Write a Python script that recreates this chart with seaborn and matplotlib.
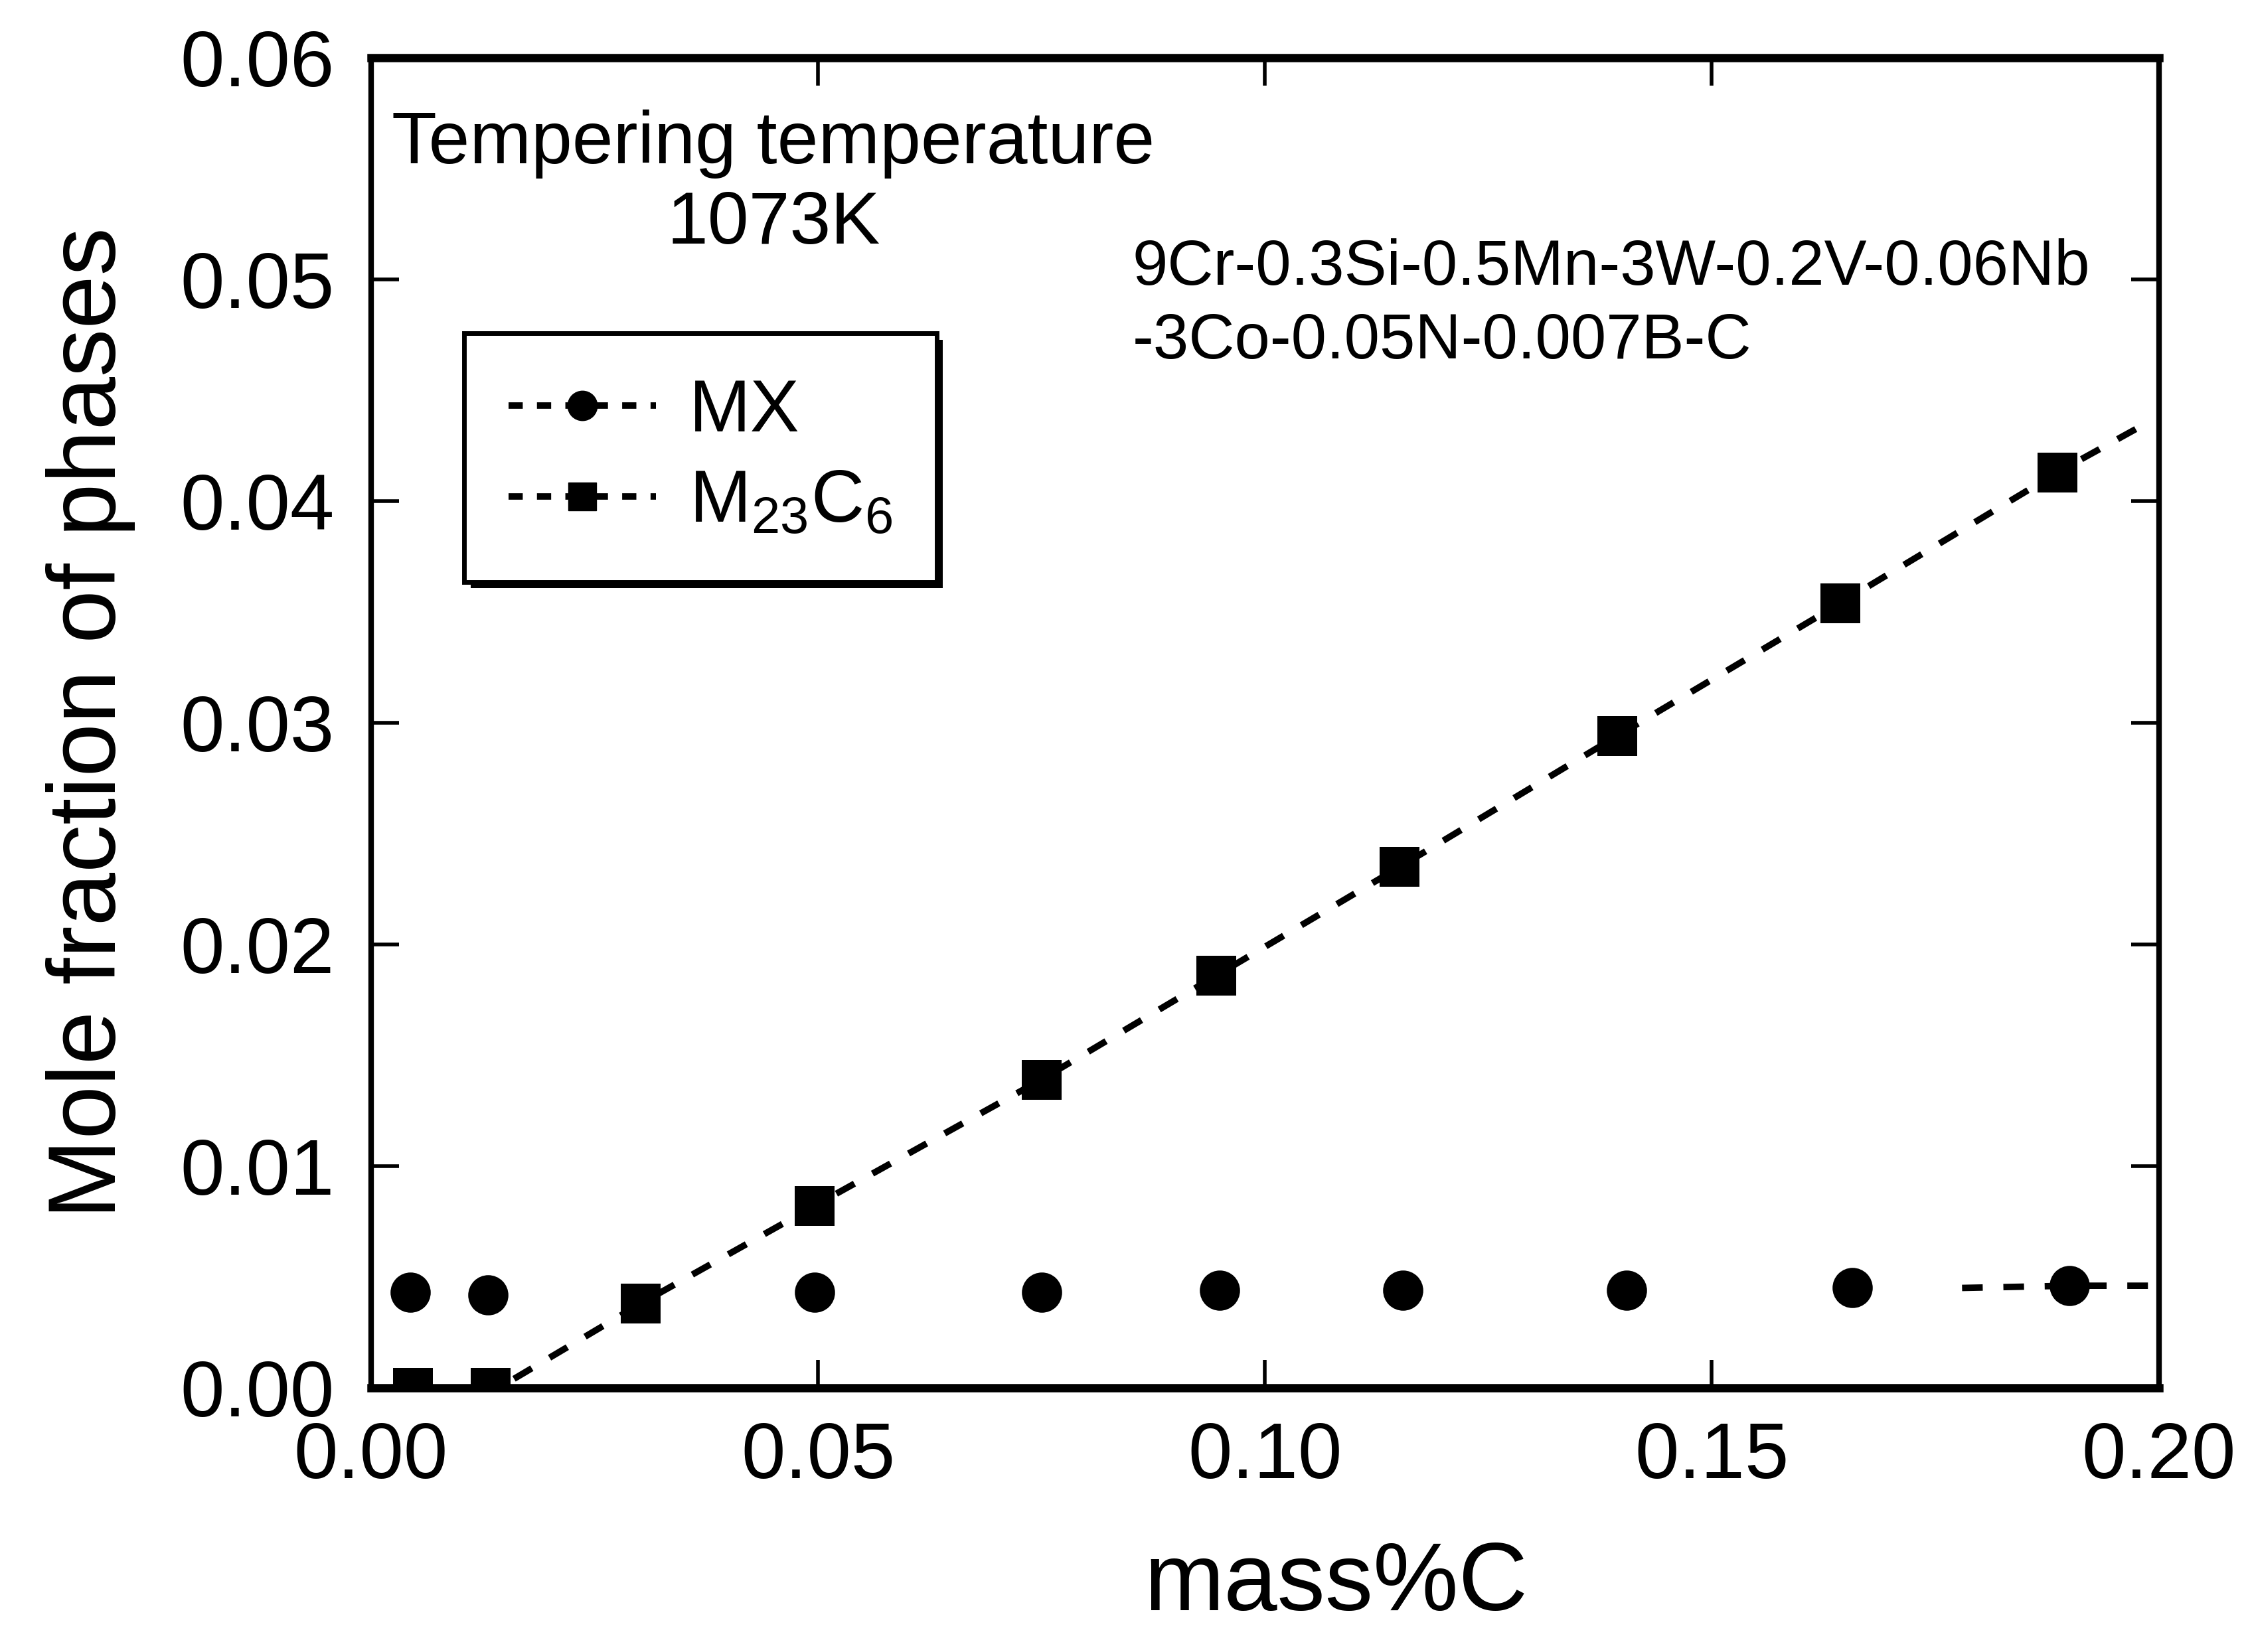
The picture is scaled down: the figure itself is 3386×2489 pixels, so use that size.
import numpy as np
import pandas as pd
import matplotlib
matplotlib.use("Agg")
import matplotlib.pyplot as plt
import matplotlib.patheffects as pe
from matplotlib.lines import Line2D
import seaborn as sns

# data
mx_x = [0.0044, 0.0131, 0.0496, 0.0750, 0.0949, 0.1154, 0.1405, 0.1657, 0.1900]
mx_y = [0.0043, 0.0042, 0.0043, 0.0043, 0.0044, 0.0044, 0.0044, 0.0045, 0.0046]
m23_x = [0.0047, 0.0134, 0.0302, 0.0496, 0.0750, 0.0946, 0.1151, 0.1394, 0.1644, 0.1887]
m23_y = [0.0000, 0.0000, 0.0038, 0.0082, 0.0139, 0.0186, 0.0235, 0.0294, 0.0354, 0.0413]
# dashed guide lines (only the visible parts)
mx_line_x = [0.1780, 0.1900, 0.1990]
mx_line_y = [0.0045, 0.0046, 0.0046]
m23_line_x = [0.0160, 0.0302, 0.0496, 0.0750, 0.0946, 0.1151, 0.1394, 0.1644, 0.1887, 0.1990]
m23_line_y = [0.0004, 0.0038, 0.0082, 0.0139, 0.0186, 0.0235, 0.0294, 0.0354, 0.0413, 0.0436]

x_ticks = [0.00, 0.05, 0.10, 0.15, 0.20]
y_ticks = [0.00, 0.01, 0.02, 0.03, 0.04, 0.05, 0.06]

sns.set_theme(style="ticks")
plt.rcParams['font.family'] = ['Liberation Sans', 'DejaVu Sans']
plt.rcParams['mathtext.fontset'] = 'custom'
plt.rcParams['mathtext.rm'] = 'Liberation Sans'
plt.rcParams['mathtext.it'] = 'Liberation Sans'
for k in ['text.color', 'axes.labelcolor', 'xtick.color', 'ytick.color', 'axes.edgecolor']:
    plt.rcParams[k] = 'black'

fig = plt.figure(figsize=(33.87, 24.89), dpi=100)
ax = fig.add_axes([0.165, 0.16, 0.795, 0.805])

lw = 7
dash = (3.2, 3.2)
sns.lineplot(x=mx_line_x, y=mx_line_y, ax=ax, color="black", lw=lw)
sns.lineplot(x=m23_line_x, y=m23_line_y, ax=ax, color="black", lw=lw)
for l in ax.get_lines():
    l.set_dashes(dash)

sns.scatterplot(x=mx_x, y=mx_y, ax=ax, color="black", marker="o", s=1900, linewidth=0)
sns.scatterplot(x=m23_x, y=m23_y, ax=ax, color="black", marker="s", s=1900, linewidth=0)

ax.set_xlim(0, 0.2)
ax.set_ylim(0, 0.06)
ax.set_xticks(x_ticks)
ax.set_yticks(y_ticks)
ax.set_xticklabels([f"{v:.2f}" for v in x_ticks])
ax.set_yticklabels([f"{v:.2f}" for v in y_ticks])
ax.tick_params(direction="in", length=30, width=4, labelsize=86,
               top=True, right=True)
ax.tick_params(axis="x", pad=36)
ax.tick_params(axis="y", pad=40)
for side in ["top", "bottom"]:
    ax.spines[side].set_linewidth(9)
for side in ["left", "right"]:
    ax.spines[side].set_linewidth(6)

ax.set_xlabel("mass%C", fontsize=104, labelpad=55)
ax.xaxis.set_label_coords(0.54, -0.115)
ax.set_ylabel("Mole fraction of phases", fontsize=104, labelpad=48)

ax.text(0.225, 0.905, "Tempering temperature\n1073K", transform=ax.transAxes,
        ha="center", va="center", fontsize=80, linespacing=1.2)
ax.text(0.426, 0.814, "9Cr-0.3Si-0.5Mn-3W-0.2V-0.06Nb\n-3Co-0.05N-0.007B-C",
        transform=ax.transAxes, ha="left", va="center", fontsize=69, linespacing=1.3)

handles = [
    Line2D([], [], color="black", lw=lw, dashes=(2.2, 2.2), marker="o", markersize=32),
    Line2D([], [], color="black", lw=lw, dashes=(2.2, 2.2), marker="s", markersize=30),
]
leg = ax.legend(handles, ["MX", "M$_{23}$C$_6$"], loc="upper left",
                bbox_to_anchor=(0.052, 0.793), borderaxespad=0, fontsize=80,
                handlelength=2.0, handletextpad=0.45, frameon=True, fancybox=False,
                borderpad=0.6, labelspacing=0.3)
frame = leg.get_frame()
frame.set_edgecolor("black")
frame.set_linewidth(5)
frame.set_alpha(1)
frame.set_path_effects([pe.SimplePatchShadow(offset=(7, -7), shadow_rgbFace="black", alpha=1),
                        pe.Normal()])

fig.savefig("out.png", dpi=100, facecolor="white")
